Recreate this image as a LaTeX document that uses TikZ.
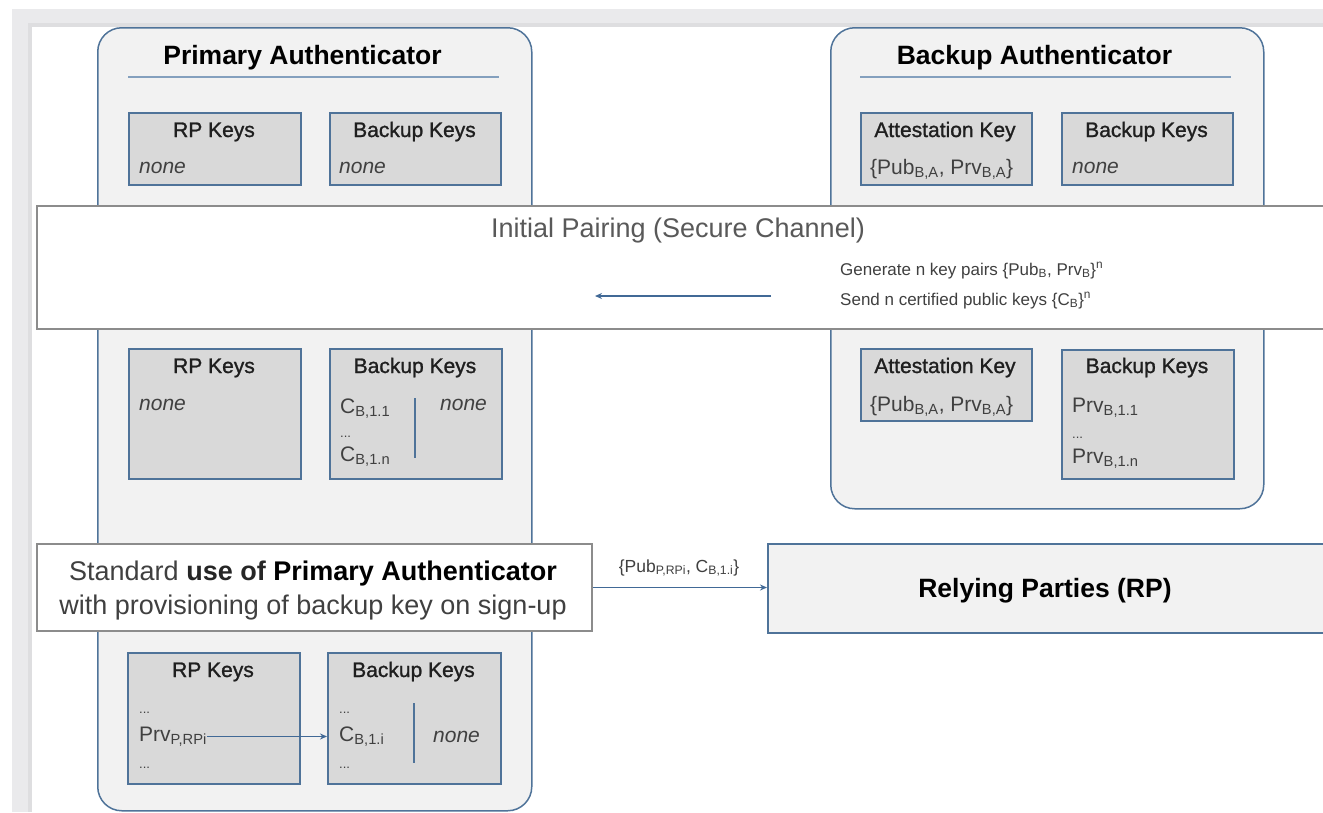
\documentclass[tikz,border=0pt]{standalone}
\usepackage{fontspec}
\setmainfont{Liberation Sans}
\newfontfamily\medfont{Liberation Sans}[FakeBold=1.2]
\usetikzlibrary{arrows.meta}
\definecolor{steel}{RGB}{79,115,153}
\definecolor{panel}{RGB}{242,242,242}
\definecolor{keyfill}{RGB}{217,217,217}
\definecolor{uline}{RGB}{132,160,190}
\definecolor{framec}{RGB}{234,234,236}
\definecolor{frameshade}{RGB}{222,222,224}
\definecolor{txt}{RGB}{64,64,64}
\definecolor{bantxt}{RGB}{89,89,89}
\definecolor{banline}{RGB}{140,140,140}
\definecolor{arrowc}{RGB}{65,105,150}
\newcommand{\fsz}[2]{\fontsize{#1}{#2}\selectfont}
\begin{document}
\begin{tikzpicture}[x=1pt,y=-1pt,
  auth/.style={draw=steel, line width=1.5pt, fill=panel, rounded corners=24pt, anchor=north west, inner sep=0pt},
  keybox/.style={draw=steel, line width=1.8pt, fill=keyfill, anchor=north west, inner sep=0pt},
  plainbox/.style={draw=banline, line width=2pt, fill=white, anchor=north west, inner sep=0pt},
  title/.style={anchor=base, font=\fsz{26.5}{30}\bfseries, text=black, inner sep=0pt},
  hdr/.style={anchor=base, font=\medfont\fsz{21}{24}, text=black!88, inner sep=0pt},
  cnt/.style={anchor=base west, font=\fsz{21}{24}, text=txt, inner sep=0pt},
  nonetxt/.style={anchor=base west, font=\fsz{21}{24}\itshape, text=txt, inner sep=0pt},
  dots/.style={anchor=base west, font=\fsz{13}{15}, text=txt, inner sep=0pt},
  small/.style={anchor=base west, font=\fsz{17}{20}, text=txt, inner sep=0pt},
  uline/.style={draw=uline, line width=2.5pt},
  sep/.style={draw=steel, line width=1.5pt},
  conn/.style={draw=arrowc, line width=1.2pt, -{Stealth[length=7pt,width=6pt]}}
]
\path[use as bounding box] (0,0) rectangle (1323,812);
\clip (0,0) rectangle (1323,812);
% window frame
\fill[framec] (12,9) rectangle (1323,812);
\fill[frameshade] (28,23) rectangle (1323,812);
\fill[white] (32,27) rectangle (1323,812);

% Primary authenticator
\node[auth, minimum width=434pt, minimum height=783pt] (pa) at (97,27) {};
\node[title] (pat) at (302.5,64) {Primary Authenticator};
\draw[uline] (128,77) -- (499,77);
\node[keybox, minimum width=172pt, minimum height=72pt] (pk1) at (128,112) {};
\node[keybox, minimum width=171pt, minimum height=72pt] (pb1) at (329,112) {};
\node[hdr] (pk1h) at (214,137) {RP Keys};
\node[hdr] (pb1h) at (414.5,137) {Backup Keys};
\node[nonetxt] (pk1n) at (139,173) {none};
\node[nonetxt] (pb1n) at (339,173) {none};

\node[keybox, minimum width=172pt, minimum height=130pt] (pk2) at (128,348) {};
\node[keybox, minimum width=172pt, minimum height=130pt] (pb2) at (329,348) {};
\node[hdr] (pk2h) at (214,373) {RP Keys};
\node[hdr] (pb2h) at (415,373) {Backup Keys};
\node[nonetxt] (pk2n) at (139,410) {none};
\node[cnt] (pb2c1) at (340,413) {C\textsubscript{B,1.1}};
\node[dots] (pb2d) at (340,437) {...};
\node[cnt] (pb2c2) at (340,461) {C\textsubscript{B,1.n}};
\draw[sep] (415,398) -- (415,458);
\node[nonetxt] (pb2n) at (440,410) {none};

\node[keybox, minimum width=172pt, minimum height=131pt] (pk3) at (127,652) {};
\node[keybox, minimum width=173pt, minimum height=131pt] (pb3) at (327,652) {};
\node[hdr] (pk3h) at (213,677) {RP Keys};
\node[hdr] (pb3h) at (413.5,677) {Backup Keys};
\node[dots] (pk3d1) at (139,713) {...};
\node[cnt] (prv) at (139,741) {Prv\textsubscript{P,RPi}};
\node[dots] (pk3d2) at (139,768) {...};
\node[dots] (pb3d1) at (339,713) {...};
\node[cnt] (cbi) at (339,741) {C\textsubscript{B,1.i}};
\node[dots] (pb3d2) at (339,768) {...};
\draw[sep] (414,703) -- (414,763);
\node[nonetxt] (pb3n) at (433,742) {none};
\draw[conn] (prv.east) -- (prv.east -| pb3.west);

% Backup authenticator
\node[auth, minimum width=433pt, minimum height=481pt] (ba) at (830,27) {};
\node[title] (bat) at (1034.5,64) {Backup Authenticator};
\draw[uline] (860,77) -- (1231,77);
\node[keybox, minimum width=171pt, minimum height=72pt] (ba1) at (860,112) {};
\node[keybox, minimum width=171pt, minimum height=72pt] (bb1) at (1061,112) {};
\node[hdr] (ba1h) at (945,137) {Attestation Key};
\node[hdr] (bb1h) at (1146.5,137) {Backup Keys};
\node[cnt] (ba1c) at (870,174) {\{Pub\textsubscript{B,A}, Prv\textsubscript{B,A}\}};
\node[nonetxt] (bb1n) at (1072,173) {none};

\node[keybox, minimum width=171pt, minimum height=72pt] (ba2) at (860,348) {};
\node[keybox, minimum width=172pt, minimum height=129pt] (bb2) at (1061,349) {};
\node[hdr] (ba2h) at (945,373) {Attestation Key};
\node[hdr] (bb2h) at (1147,373) {Backup Keys};
\node[cnt] (ba2c) at (870,411) {\{Pub\textsubscript{B,A}, Prv\textsubscript{B,A}\}};
\node[cnt] (bb2c1) at (1072,412) {Prv\textsubscript{B,1.1}};
\node[dots] (bb2d) at (1072,438) {...};
\node[cnt] (bb2c2) at (1072,463) {Prv\textsubscript{B,1.n}};

% Initial pairing banner
\node[plainbox, minimum width=1330pt, minimum height=123pt] (ban) at (36,205) {};
\node[anchor=base, font=\fsz{27}{30}, text=bantxt, inner sep=0pt] (bant) at (678,237) {Initial Pairing (Secure Channel)};
\node[small] (gen) at (840,275) {Generate n key pairs \{Pub\textsubscript{B}, Prv\textsubscript{B}\}\textsuperscript{n}};
\node[small] (snd) at (840,305) {Send n certified public keys \{C\textsubscript{B}\}\textsuperscript{n}};
\coordinate (pairS) at (771,296);
\coordinate (pairE) at (595,296);
\draw[conn] (pairS) -- (pairE);

% Standard use
\node[plainbox, minimum width=555pt, minimum height=87pt] (std) at (36,543) {};
\node[anchor=base, font=\fsz{27}{30}, text=txt, inner sep=0pt] (std1) at (313,580) {Standard \textbf{\textcolor{black!85}{use of} \textcolor{black}{Primary Authenticator}}};
\node[anchor=base, font=\fsz{27}{30}, text=txt, inner sep=0pt] (std2) at (313,614) {with provisioning of backup key on sign-up};

% Relying parties
\node[draw=steel, line width=2pt, fill=panel, anchor=north west, inner sep=0pt, minimum width=580pt, minimum height=89pt] (rp) at (767,543) {};
\node[title] (rpt) at (1045,597) {Relying Parties (RP)};
\draw[conn] (std.east) -- (std.east -| rp.west);
\node[anchor=base, font=\fsz{17.5}{20}, text=txt, inner sep=0pt] (lbl) at (679,572) {\{Pub\textsubscript{P,RPi}, C\textsubscript{B,1.i}\}};
\end{tikzpicture}
\end{document}
